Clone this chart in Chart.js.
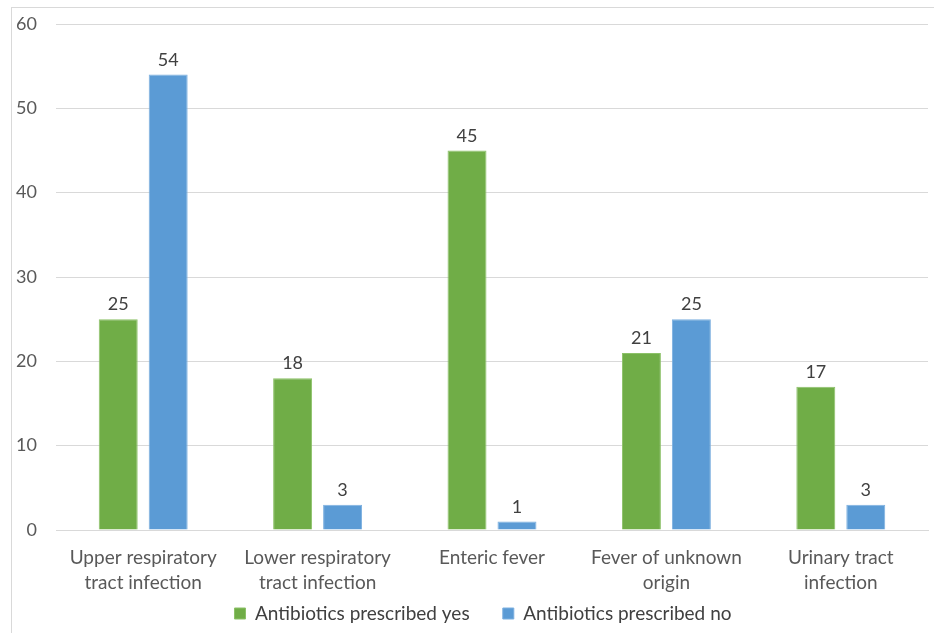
<!DOCTYPE html>
<html lang="en">
<head>
<meta charset="UTF-8">
<title>Antibiotics prescribed by diagnosis</title>
<script src="https://cdn.jsdelivr.net/npm/chart.js"></script>
<style>
    html, body { margin: 0; padding: 0; background: #fff; overflow: hidden; }
    #frame { position: absolute; left: 11px; top: 7px; width: 1000px; height: 1000px; border: 1px solid #d9d9d9; }
    #wrap { position: absolute; left: 0; top: 0; width: 934px; height: 633px; }
</style>
</head>
<body>
<div id="frame"></div>
<div id="wrap"><canvas id="chart" width="934" height="633"></canvas></div>

<script>
// Data setup
const categories = [
    ['Upper respiratory', 'tract infection'],
    ['Lower respiratory', 'tract infection'],
    'Enteric fever',
    ['Fever of unknown', 'origin'],
    ['Urinary tract', 'infection']
];
const prescribedYes = [25, 18, 45, 21, 17];
const prescribedNo = [54, 3, 1, 25, 3];
const yTicks = [0, 10, 20, 30, 40, 50, 60];

const FONT = 'Lato, "Open Sans", sans-serif';

// value labels above each bar
const barValues = {
    id: 'barValues',
    afterDatasetsDraw(chart) {
        const ctx = chart.ctx;
        ctx.save();
        ctx.font = '18px ' + FONT;
        ctx.fillStyle = '#404040';
        ctx.textAlign = 'center';
        ctx.textBaseline = 'alphabetic';
        chart.data.datasets.forEach((ds, i) => {
            chart.getDatasetMeta(i).data.forEach((bar, j) => {
                ctx.fillText(ds.data[j], bar.x, bar.y - 9);
            });
        });
        ctx.restore();
    }
};

// nudge the legend a bit right, like the original
const legendShift = {
    id: 'legendShift',
    afterLayout(chart) {
        chart.legend.left += 19;
        chart.legend.right += 19;
    }
};

new Chart(document.getElementById('chart'), {
    type: 'bar',
    data: {
        labels: categories,
        datasets: [
            {
                label: 'Antibiotics prescribed yes',
                data: prescribedYes,
                backgroundColor: '#70ad47',
                borderColor: '#8cc168',
                borderWidth: 1,
                categoryPercentage: 0.573,
                barPercentage: 0.78
            },
            {
                label: 'Antibiotics prescribed no',
                data: prescribedNo,
                backgroundColor: '#5b9bd5',
                borderColor: '#7db0e0',
                borderWidth: 1,
                categoryPercentage: 0.573,
                barPercentage: 0.78
            }
        ]
    },
    options: {
        responsive: false,
        animation: false,
        layout: { padding: { left: 0, right: 6, top: 24, bottom: 0 } },
        plugins: {
            legend: {
                position: 'bottom',
                labels: {
                    font: { family: FONT, size: 19 },
                    color: '#404040',
                    boxWidth: 11,
                    boxHeight: 11,
                    padding: 4,
                    generateLabels(chart) {
                        const items = Chart.defaults.plugins.legend.labels.generateLabels(chart);
                        items[0].text += '      ';
                        return items;
                    }
                }
            },
            tooltip: { enabled: false }
        },
        scales: {
            x: {
                grid: { display: false },
                border: { color: '#d9d9d9' },
                ticks: {
                    font: { family: FONT, size: 19, lineHeight: 1.32 },
                    color: '#595959',
                    padding: 7,
                    maxRotation: 0
                },
                afterFit(scale) { scale.height = 70; }
            },
            y: {
                min: 0,
                max: 60,
                afterBuildTicks(scale) { scale.ticks = yTicks.map(v => ({ value: v })); },
                grid: { color: '#d9d9d9', drawTicks: false },
                border: { display: false },
                ticks: {
                    font: { family: FONT, size: 18 },
                    color: '#595959',
                    padding: 19
                },
                afterFit(scale) {
                    scale.width = 56;
                    scale.paddingTop = 0;
                    scale.paddingBottom = 0;
                }
            }
        }
    },
    plugins: [barValues, legendShift]
});
</script>
</body>
</html>
